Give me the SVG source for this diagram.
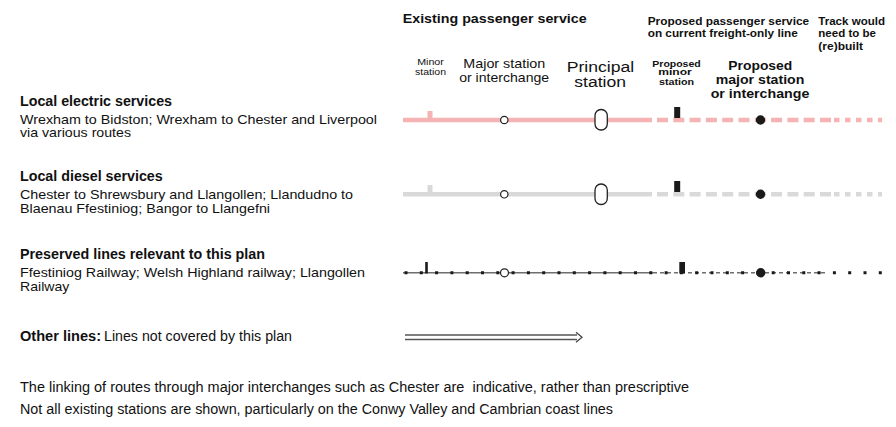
<svg xmlns="http://www.w3.org/2000/svg" width="896" height="427" viewBox="0 0 896 427">
<style>
text{font-family:"Liberation Sans",Arial,sans-serif;fill:#111}
.b{font-weight:bold}
.t14{font-size:14px}
.t13{font-size:13px}
.h{font-size:11.5px;font-weight:bold}
.m{text-anchor:middle}
.elec{stroke:#f5b3b3;stroke-width:4.5;fill:none}
.dies{stroke:#d9d9d9;stroke-width:4.5;fill:none}
.open{fill:#fff;stroke:#222;stroke-width:1.2}
.prin{fill:#fff;stroke:#222;stroke-width:1.3}
.blk{fill:#1a1a1a}
</style>
<rect width="896" height="427" fill="#fff"/>

<g id="header">
<text class="b" font-size="13.5" x="402.7" y="22.7" textLength="184" lengthAdjust="spacingAndGlyphs">Existing passenger service</text>
<text class="h" x="647.7" y="25" textLength="161.5" lengthAdjust="spacingAndGlyphs">Proposed passenger service</text>
<text class="h" x="647.7" y="37.3" textLength="150" lengthAdjust="spacingAndGlyphs">on current freight-only line</text>
<text class="h" x="818.3" y="25" textLength="66.7" lengthAdjust="spacingAndGlyphs">Track would</text>
<text class="h" x="818.3" y="37.3" textLength="57.7" lengthAdjust="spacingAndGlyphs">need to be</text>
<text class="h" x="818.3" y="49.6" textLength="44.7" lengthAdjust="spacingAndGlyphs">(re)built</text>
</g>

<g id="column-labels">
<text class="m" x="430.5" y="65.3" font-size="9" textLength="26.7" lengthAdjust="spacingAndGlyphs">Minor</text>
<text class="m" x="430.5" y="75" font-size="9" textLength="31" lengthAdjust="spacingAndGlyphs">station</text>
<text class="m t13" x="504.3" y="68.3" textLength="82" lengthAdjust="spacingAndGlyphs">Major station</text>
<text class="m t13" x="504.2" y="81.7" textLength="90" lengthAdjust="spacingAndGlyphs">or interchange</text>
<text class="m" x="600.5" y="71.7" font-size="15.5" textLength="67.6" lengthAdjust="spacingAndGlyphs">Principal</text>
<text class="m" x="600.2" y="87.3" font-size="15.5" textLength="51.7" lengthAdjust="spacingAndGlyphs">station</text>
<text class="m b" x="676.5" y="66.7" font-size="8.5" textLength="48.4" lengthAdjust="spacingAndGlyphs">Proposed</text>
<text class="m b" x="675" y="75.3" font-size="8.5" textLength="33.4" lengthAdjust="spacingAndGlyphs">minor</text>
<text class="m b" x="676.5" y="85" font-size="8.5" textLength="35" lengthAdjust="spacingAndGlyphs">station</text>
<text class="m b t13" x="760.3" y="70" textLength="64" lengthAdjust="spacingAndGlyphs">Proposed</text>
<text class="m b t13" x="760" y="84.3" textLength="88.6" lengthAdjust="spacingAndGlyphs">major station</text>
<text class="m b t13" x="760" y="97.7" textLength="98.6" lengthAdjust="spacingAndGlyphs">or interchange</text>
</g>

<g id="row-electric">
<text class="b t14" x="20" y="106" textLength="152" lengthAdjust="spacingAndGlyphs">Local electric services</text>
<text class="t13" x="20" y="124" textLength="357" lengthAdjust="spacingAndGlyphs">Wrexham to Bidston; Wrexham to Chester and Liverpool</text>
<text class="t13" x="20" y="137.3" textLength="111" lengthAdjust="spacingAndGlyphs">via various routes</text>
<rect x="427.5" y="111" width="5" height="9" fill="#f5b3b3"/>
<line class="elec" x1="403" y1="120" x2="652" y2="120"/>
<line class="elec" x1="657" y1="120" x2="831" y2="120" stroke-dasharray="11 5.3"/>
<line class="elec" x1="834" y1="120" x2="882" y2="120" stroke-dasharray="5.5 5.5"/>
<circle class="open" cx="504.3" cy="120" r="3.7"/>
<rect class="prin" x="595" y="109.5" width="12.3" height="20.5" rx="6"/>
<rect class="blk" x="674.2" y="107" width="6" height="11"/>
<circle class="blk" cx="760.5" cy="120" r="4.7"/>
</g>

<g id="row-diesel">
<text class="b t14" x="20" y="181" textLength="142.7" lengthAdjust="spacingAndGlyphs">Local diesel services</text>
<text class="t13" x="20" y="199.3" textLength="333" lengthAdjust="spacingAndGlyphs">Chester to Shrewsbury and Llangollen; Llandudno to</text>
<text class="t13" x="20" y="212.7" textLength="250" lengthAdjust="spacingAndGlyphs">Blaenau Ffestiniog; Bangor to Llangefni</text>
<rect x="427.5" y="185" width="5" height="9" fill="#d9d9d9"/>
<line class="dies" x1="403" y1="194.3" x2="652" y2="194.3"/>
<line class="dies" x1="657" y1="194.3" x2="831" y2="194.3" stroke-dasharray="11 5.3"/>
<line class="dies" x1="834" y1="194.3" x2="882" y2="194.3" stroke-dasharray="5.5 5.5"/>
<circle class="open" cx="504.3" cy="194.3" r="3.7"/>
<rect class="prin" x="595" y="184" width="12.3" height="20.5" rx="6"/>
<rect class="blk" x="674.2" y="181" width="6" height="11"/>
<circle class="blk" cx="760.5" cy="194.3" r="4.7"/>
</g>

<g id="row-preserved">
<text class="b t14" x="20" y="259.3" textLength="245" lengthAdjust="spacingAndGlyphs">Preserved lines relevant to this plan</text>
<text class="t13" x="20" y="276.5" textLength="345" lengthAdjust="spacingAndGlyphs">Ffestiniog Railway; Welsh Highland railway; Llangollen</text>
<text class="t13" x="20" y="290.5" textLength="49.3" lengthAdjust="spacingAndGlyphs">Railway</text>
<line x1="403" y1="272.8" x2="653" y2="272.8" stroke="#6e6e6e" stroke-width="1.5"/>
<line x1="653" y1="272.8" x2="828" y2="272.8" stroke="#6e6e6e" stroke-width="1.5" stroke-dasharray="4 3"/>
<line x1="404.5" y1="272.8" x2="882" y2="272.8" stroke="#1a1a1a" stroke-width="3" stroke-dasharray="3 12.3"/>
<line x1="426.5" y1="262" x2="426.5" y2="273.5" stroke="#1a1a1a" stroke-width="2.6"/>
<circle class="open" cx="504.5" cy="272.8" r="4"/>
<rect class="blk" x="679.3" y="262" width="5.7" height="11.5"/>
<circle class="blk" cx="760.7" cy="272.8" r="4.7"/>
</g>

<g id="row-other">
<text class="b t14" x="20" y="341" textLength="81" lengthAdjust="spacingAndGlyphs">Other lines:</text>
<text class="t14" x="104" y="341" textLength="188" lengthAdjust="spacingAndGlyphs">Lines not covered by this plan</text>
<line x1="405" y1="335" x2="577" y2="335" stroke="#555" stroke-width="1.3"/>
<line x1="405" y1="339.5" x2="577" y2="339.5" stroke="#555" stroke-width="1.3"/>
<polyline points="576,332.3 582,337.3 576,342.3" fill="none" stroke="#444" stroke-width="1.3"/>
</g>

<g id="notes">
<text class="t14" x="20" y="392" textLength="669" lengthAdjust="spacingAndGlyphs" style="white-space:pre">The linking of routes through major interchanges such as Chester are  indicative, rather than prescriptive</text>
<text class="t14" x="20" y="414" textLength="593" lengthAdjust="spacingAndGlyphs">Not all existing stations are shown, particularly on the Conwy Valley and Cambrian coast lines</text>
</g>
</svg>
